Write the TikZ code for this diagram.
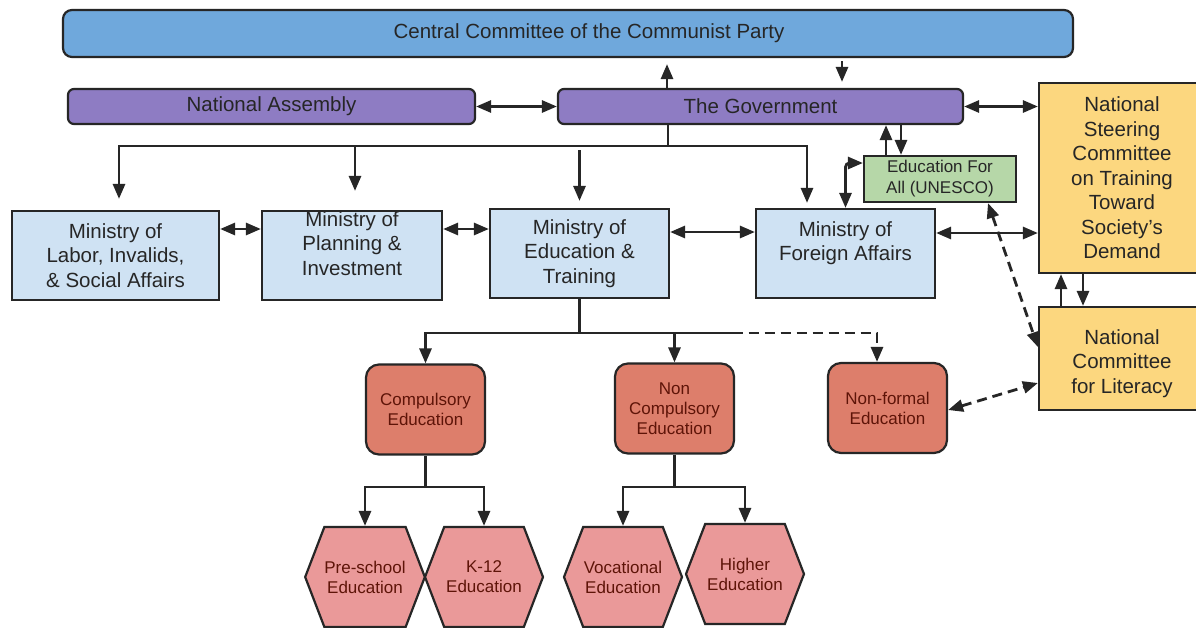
\documentclass[tikz,border=0pt]{standalone}
\usepackage{fontspec}
\setmainfont{Liberation Sans}
\usetikzlibrary{arrows.meta, positioning, calc, shapes.symbols}
\definecolor{partyblue}{HTML}{6FA8DC}
\definecolor{govpurple}{HTML}{8E7CC3}
\definecolor{minblue}{HTML}{CFE2F3}
\definecolor{efagreen}{HTML}{B6D7A8}
\definecolor{comyellow}{HTML}{FCD77F}
\definecolor{unitred}{HTML}{DD7E6B}
\definecolor{hexpink}{HTML}{EA9999}
\definecolor{darkred}{HTML}{5E1408}
\tikzset{
  base/.style={draw=black!85, line width=2.2pt, inner sep=0pt, align=center, text=black!85},
  party/.style={base, fill=partyblue, rounded corners=9pt, font=\fontsize{20.5}{24}\selectfont},
  assembly/.style={base, fill=govpurple, rounded corners=6pt, font=\fontsize{20.5}{24}\selectfont},
  ministry/.style={base, fill=minblue, minimum width=179pt, minimum height=89pt, font=\fontsize{20.5}{24.5}\selectfont},
  committee/.style={base, fill=comyellow, minimum width=166pt, font=\fontsize{20.5}{24.5}\selectfont},
  efabox/.style={base, fill=efagreen, minimum width=152pt, minimum height=46pt, font=\fontsize{17}{21}\selectfont},
  unit/.style={base, fill=unitred, rounded corners=13pt, minimum width=119pt, minimum height=90pt, text=darkred, font=\fontsize{17}{20}\selectfont},
  hexa/.style={base, shape=signal, signal to=west and east, signal pointer angle=138, fill=hexpink, minimum width=118pt, minimum height=100pt, text=darkred, font=\fontsize{17}{20}\selectfont},
  ln/.style={draw=black!85, line width=2.8pt},
  arr/.style={ln, -{Triangle[length=15pt, width=12pt]}},
  darr/.style={ln, {Triangle[length=15pt, width=12pt]}-{Triangle[length=15pt, width=12pt]}},
  dsh/.style={dash pattern=on 10pt off 6pt},
}
\begin{document}
\begin{tikzpicture}[x=1pt, y=-1pt]
  \fill[white] (0,0) rectangle (1196,627);
  \useasboundingbox (0,0) rectangle (1196,627);

  \node[party, minimum width=1010pt, minimum height=47pt] (cc) at (568,33.5) {\hspace*{42pt}Central Committee of the Communist Party};
  \node[assembly, minimum width=407pt, minimum height=35pt] (na) at (271.5,106.5) {National Assembly};
  \node[assembly, minimum width=405pt, minimum height=35pt] (gov) at (760.5,106.5) {The Government};
  \node[committee, minimum height=190pt] (nsc) at (1122,178) {National\\Steering\\Committee\\on Training\\Toward\\Society's\\Demand};
  \node[committee, minimum height=103pt] (ncl) at (1122,358.5) {\mbox{}\\National\\Committee\\for Literacy};
  \node[efabox] (efa) at (940,179) {Education For\\All (UNESCO)};

  \node[ministry, minimum width=207pt] (mlab) at (115.5,255.5) {Ministry of\\Labor, Invalids,\\\& Social Affairs};
  \node[ministry, minimum width=180pt] (mpi) at (352,255.5) {Ministry of\\Planning \&\\Investment\\\mbox{}};
  \node[ministry] (moet) at (579.5,253.5) {Ministry of\\Education \&\\Training};
  \node[ministry] (mfa) at (845.5,253.5) {Ministry of\\Foreign Affairs\\\mbox{}};

  \node[unit] (comp) at (425.5,409.5) {Compulsory\\Education};
  \node[unit] (noncomp) at (674.5,408.5) {Non\\Compulsory\\Education};
  \node[unit] (nonformal) at (887.5,408) {Non-formal\\Education};

  \node[hexa] (pre) at (365,577) {Pre-school\\Education};
  \node[hexa] (k12) at (484,577) {K-12\\Education};
  \node[hexa] (voc) at (623,577) {Vocational\\Education};
  \node[hexa] (higher) at (745,574) {Higher\\Education};

  \draw[arr, shorten >=6pt] ([xshift=-93.5pt]gov.north) -- ([xshift=-93.5pt]gov.north |- cc.south);
  \draw[arr, shorten <=3pt, shorten >=6pt] ([xshift=81.5pt]gov.north |- cc.south) -- ([xshift=81.5pt]gov.north);
  \draw[darr] (na) -- (gov);
  \draw[darr] (gov.east) -- (gov.east -| nsc.west);

  \coordinate (gbus) at (668,146);
  \draw[ln] ([xshift=-92.5pt]gov.south) -- (gbus);
  \draw[arr, shorten >=11pt] (gbus) -| ([xshift=3.5pt]mlab.north);
  \draw[arr, shorten >=19pt] ([xshift=3pt]mpi.north |- gbus) -- ([xshift=3pt]mpi.north);
  \draw[arr, shorten <=4pt, shorten >=7pt] (moet.north |- gbus) -- (moet.north);
  \draw[arr, shorten >=5pt] (gbus) -| ([xshift=-38.5pt]mfa.north);

  \draw[arr] ([xshift=-54pt]efa.north) -- ([xshift=-54pt]efa.north |- gov.south);
  \draw[arr] ([xshift=-39pt]efa.north |- gov.south) -- ([xshift=-39pt]efa.north);
  \draw[darr, rounded corners=4pt] ([yshift=16pt]efa.west) -| (mfa.north);

  \draw[darr] ([yshift=26.5pt]mlab.east) -- ([yshift=26.5pt]mlab.east -| mpi.west);
  \draw[darr] ([yshift=26.5pt]mpi.east) -- ([yshift=26.5pt]mpi.east -| moet.west);
  \draw[darr] ([yshift=21.5pt]moet.east) -- ([yshift=21.5pt]moet.east -| mfa.west);
  \draw[darr] ([yshift=20.5pt]mfa.east) -- ([yshift=20.5pt]mfa.east -| nsc.west);

  \draw[darr, dsh] ([xshift=48pt]efa.south) -- ([yshift=11.5pt]ncl.west);
  \draw[arr] ([xshift=-61pt]ncl.north) -- ([xshift=-61pt]ncl.north |- nsc.south);
  \draw[arr] ([xshift=-39pt]nsc.south) -- ([xshift=-39pt]nsc.south |- ncl.north);
  \draw[darr, dsh] ([yshift=-2pt]nonformal.east) -- ([yshift=-24.5pt]ncl.west);

  \coordinate (mbus) at (579.5,333);
  \draw[ln] (moet.south) -- (mbus);
  \draw[arr] (mbus) -| (comp.north);
  \draw[arr] (mbus) -| (noncomp.north);
  \draw[ln] (noncomp.north |- mbus) -- ++(58,0) coordinate (dbend);
  \draw[arr, dsh] (dbend) -| ([xshift=-10.5pt]nonformal.north);

  \coordinate (cbus) at (425.5,487);
  \draw[ln] (comp.south) -- (cbus);
  \draw[arr] (cbus) -| (pre.north);
  \draw[arr] (cbus) -| (k12.north);
  \coordinate (nbus) at (674.5,487);
  \draw[ln] (noncomp.south) -- (nbus);
  \draw[arr] (nbus) -| (voc.north);
  \draw[arr] (nbus) -| (higher.north);
\end{tikzpicture}
\end{document}
